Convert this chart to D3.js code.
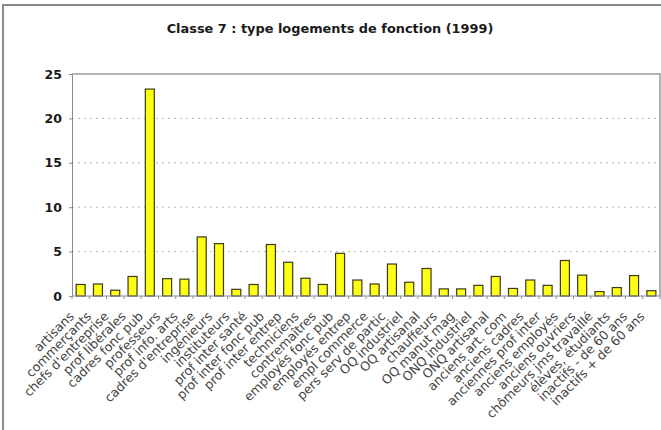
<!DOCTYPE html>
<html><head><meta charset="utf-8">
<script src="https://cdn.jsdelivr.net/npm/d3@7"></script>
<style>body{margin:0;background:#fff}svg{display:block}</style>
</head><body><svg id="c" width="661" height="430"></svg>
<script>
const title = "Classe 7 : type logements de fonction (1999)";
const categories = ["artisans","commerçants","chefs d'entreprise","prof libérales","cadres fonc pub","professeurs","prof info. arts","cadres d'entreprise","ingénieurs","instituteurs","prof inter santé","prof inter fonc pub","prof inter entrep","techniciens","contremaîtres","employés fonc pub","employés entrep","empl commerce","pers serv de partic","OQ industriel","OQ artisanal","chauffeurs","OQ manut mag","ONQ industriel","ONQ artisanal","anciens art. com","anciens cadres","anciennes prof inter","anciens employés","anciens ouvriers","chômeurs jms travaillé","élèves, étudiants","inactifs - de 60 ans","inactifs + de 60 ans"];
const values = [1.3,1.35,0.65,2.2,23.3,1.95,1.9,6.65,5.9,0.75,1.3,5.8,3.8,2.0,1.3,4.8,1.8,1.35,3.6,1.55,3.1,0.8,0.8,1.2,2.2,0.85,1.8,1.2,4.0,2.35,0.5,0.95,2.3,0.6];
const yTicks = [0,5,10,15,20,25];

const svg = d3.select("#c");
const m = {left:72, right:660, top:74, bottom:296};

svg.append("rect").attr("x",3).attr("y",5).attr("width",700).attr("height",500)
  .attr("fill","#fff").attr("stroke","#8c8c8c").attr("stroke-width",2);

svg.append("text").attr("x",330).attr("y",33).attr("text-anchor","middle")
  .attr("font-family","DejaVu Sans").attr("font-weight","bold").attr("font-size",12.9)
  .attr("fill","#1a1a1a").text(title);

const x = d3.scaleBand().domain(categories).range([m.left,m.right]).paddingInner(0.48).paddingOuter(0.24);
const y = d3.scaleLinear().domain([0,25]).range([m.bottom,m.top]);

// grid
svg.append("g").selectAll("line").data(yTicks.filter(d=>d>0&&d<25)).join("line")
  .attr("x1",m.left).attr("x2",m.right).attr("y1",d=>y(d)).attr("y2",d=>y(d))
  .attr("stroke","#b5b5b5").attr("stroke-dasharray","2,4");

// plot border
svg.append("path").attr("d",`M${m.left},${m.top}H${m.right}V${m.bottom}`)
  .attr("fill","none").attr("stroke","#9a9a9a").attr("stroke-width",1.5);

// y axis
const ya = svg.append("g").attr("transform",`translate(${m.left},0)`)
  .call(d3.axisLeft(y).tickValues(yTicks).tickSize(3).tickPadding(7));
ya.select(".domain").attr("stroke","#8a8a8a");
ya.selectAll(".tick line").attr("stroke","#8a8a8a");
ya.selectAll("text").attr("font-family","DejaVu Sans").attr("font-weight","bold")
  .attr("font-size",12.5).attr("fill","#1a1a1a");

// bars
svg.append("g").selectAll("rect").data(values).join("rect")
  .attr("x",(d,i)=>x(categories[i])).attr("width",x.bandwidth())
  .attr("y",d=>y(d)).attr("height",d=>y(0)-y(d))
  .attr("fill","#ffff14").attr("stroke","#3a3a18").attr("stroke-width",1.2);

// x axis
const step = x.step();
const xa = svg.append("g").attr("transform",`translate(0,${m.bottom})`);
xa.append("line").attr("x1",m.left).attr("x2",m.right).attr("stroke","#8a8aa8").attr("stroke-width",1.2);
xa.selectAll(".tk").data(d3.range(categories.length+1)).join("line").attr("class","tk")
  .attr("x1",i=>m.left+i*step).attr("x2",i=>m.left+i*step).attr("y1",0).attr("y2",3)
  .attr("stroke","#8a8aa8");
xa.selectAll(".lbl").data(categories).join("text").attr("class","lbl")
  .attr("transform",d=>`translate(${x(d)+x.bandwidth()/2-9},18) rotate(-45)`)
  .attr("text-anchor","end").attr("dy","0.35em")
  .attr("font-family","DejaVu Sans").attr("font-size",12.6).attr("fill","#444")
  .text(d=>d);
</script></body></html>
